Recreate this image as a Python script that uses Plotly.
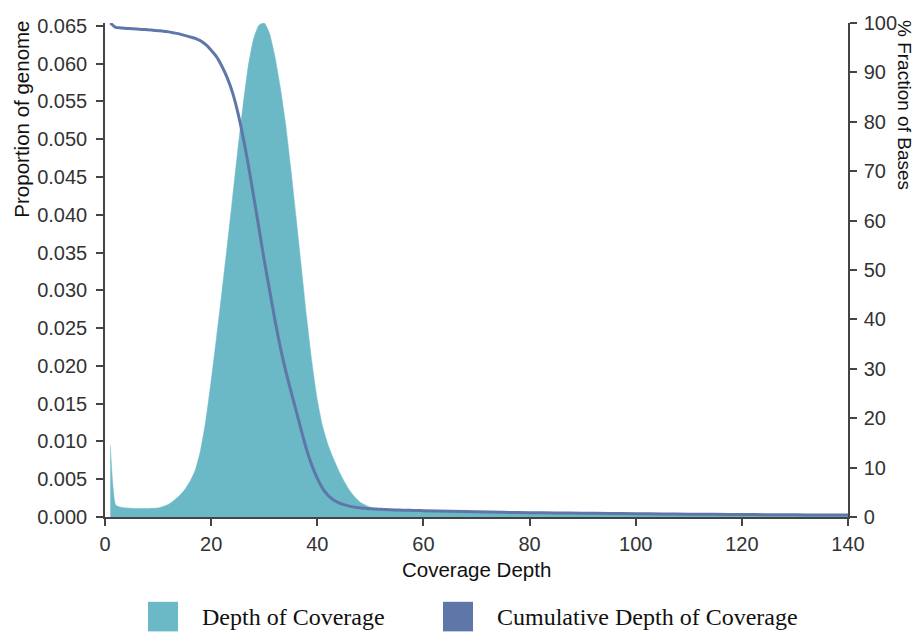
import plotly.graph_objects as go

# ---- data ----
depth = list(range(1, 61)) + [65, 70, 75, 80, 85, 90, 95, 100, 105, 110, 115, 120, 125, 130, 135, 140]

depth_proportion = [
    0.0095, 0.0016, 0.0013, 0.0012, 0.00115, 0.00112, 0.00112, 0.00112, 0.00115, 0.0012,
    0.0014, 0.0017, 0.0022, 0.0028, 0.0036, 0.0047, 0.0062, 0.0088, 0.0128, 0.0180,
    0.0237, 0.0296, 0.0357, 0.0420, 0.0484, 0.0544, 0.0597, 0.0633, 0.0651, 0.0654,
    0.0640, 0.0610, 0.0570, 0.0522, 0.0462, 0.0397, 0.0330, 0.0264, 0.0204, 0.0155,
    0.0120, 0.0096, 0.0078, 0.0062, 0.0048, 0.0036, 0.0027, 0.0020, 0.0016, 0.0013,
    0.0011, 0.0010, 0.00095, 0.00092, 0.0009, 0.00089, 0.00088, 0.00087, 0.00086, 0.00085,
    0.0008, 0.0007, 0.00065, 0.0006, 0.00055, 0.0005, 0.00048, 0.00045, 0.00042, 0.0004,
    0.00038, 0.00035, 0.00032, 0.0003, 0.00028, 0.00025,
]

cumulative_pct = [
    100.0, 99.1, 99.0, 98.9, 98.85, 98.8, 98.7, 98.65, 98.55, 98.45,
    98.35, 98.2, 98.0, 97.8, 97.5, 97.2, 96.9, 96.4, 95.6, 94.5,
    93.2, 91.3, 89.0, 86.0, 82.0, 77.0, 71.3, 65.0, 58.5, 52.0,
    46.0, 40.0, 34.5, 29.8, 25.6, 21.6, 17.5, 13.6, 10.4, 7.8,
    5.8, 4.4, 3.5, 2.9, 2.5, 2.2, 2.0, 1.85, 1.75, 1.65,
    1.6, 1.55, 1.5, 1.46, 1.42, 1.39, 1.36, 1.33, 1.31, 1.29,
    1.18, 1.05, 0.95, 0.88, 0.82, 0.76, 0.71, 0.66, 0.62, 0.58,
    0.54, 0.5, 0.47, 0.44, 0.41, 0.38,
]

x_ticks = [0, 20, 40, 60, 80, 100, 120, 140]
legend_labels = ["Depth of Coverage", "Cumulative Depth of Coverage"]

TEAL = "#6BB8C6"
BLUE = "#5E77A8"
AXIS = "#444444"
FONT = "Liberation Sans, Arial, Helvetica, sans-serif"

fig = go.Figure()
fig.add_trace(go.Scatter(
    x=depth, y=depth_proportion, mode="lines", fill="tozeroy",
    line=dict(color=TEAL, width=0.5, shape="spline", smoothing=0.5), fillcolor=TEAL,
    name=legend_labels[0], showlegend=False,
))
fig.add_trace(go.Scatter(
    x=depth, y=cumulative_pct, mode="lines", yaxis="y2",
    line=dict(color=BLUE, width=3, shape="spline", smoothing=0.6),
    name=legend_labels[1], showlegend=False,
))

def axis_style(standoff):
    return dict(
        showline=True, linecolor=AXIS, linewidth=1.5,
        ticks="outside", ticklen=7, tickwidth=1.5, tickcolor=AXIS,
        showgrid=False, zeroline=False, ticklabelstandoff=standoff,
        tickfont=dict(family=FONT, size=20, color="#333333"),
    )

fig.update_layout(
    width=919, height=637,
    margin=dict(l=105, r=71, t=16, b=120),
    paper_bgcolor="white", plot_bgcolor="white",
    font=dict(family=FONT, size=20, color="#222222"),
    xaxis=dict(range=[0, 140], tickvals=x_ticks, **axis_style(1)),
    yaxis=dict(range=[0, 0.06539], tick0=0, dtick=0.005, tickformat=".3f", **axis_style(5)),
    yaxis2=dict(range=[0, 100], tick0=0, dtick=10, overlaying="y", side="right",
                anchor="x", **axis_style(3)),
    showlegend=False,
)

# axis titles (placed toward the top like the reference)
fig.add_annotation(text="Proportion of genome", xref="paper", yref="paper",
                   x=-0.1117, y=0.8044, xanchor="center", yanchor="middle", textangle=-90,
                   showarrow=False, font=dict(family=FONT, size=20.5, color="#111111"))
fig.add_annotation(text="% Fraction of Bases", xref="paper", yref="paper",
                   x=1.0767, y=0.834, xanchor="center", yanchor="middle", textangle=90,
                   showarrow=False, font=dict(family=FONT, size=19, color="#111111"))
fig.add_annotation(text="Coverage Depth", xref="paper", yref="paper",
                   x=0.5, y=-0.1058, xanchor="center", yanchor="middle",
                   showarrow=False, font=dict(family=FONT, size=20.5, color="#111111"))

# legend (squares + serif text)
legend_items = [(legend_labels[0], TEAL, 148), (legend_labels[1], BLUE, 443)]
for label, color, px in legend_items:
    x0 = (px - 105) / 743
    x1 = (px + 30 - 105) / 743
    fig.add_shape(type="rect", xref="paper", yref="paper",
                  x0=x0, x1=x1, y0=(517 - 633) / 501, y1=(517 - 603) / 501,
                  fillcolor=color, line=dict(width=0))
    fig.add_annotation(text=label, xref="paper", yref="paper",
                       x=(px + 52 - 105) / 743, y=(517 - 618) / 501,
                       xanchor="left", yanchor="middle", showarrow=False,
                       font=dict(family="Liberation Serif, Times New Roman, serif",
                                 size=24, color="#111111"))

fig.write_html("out.html")
